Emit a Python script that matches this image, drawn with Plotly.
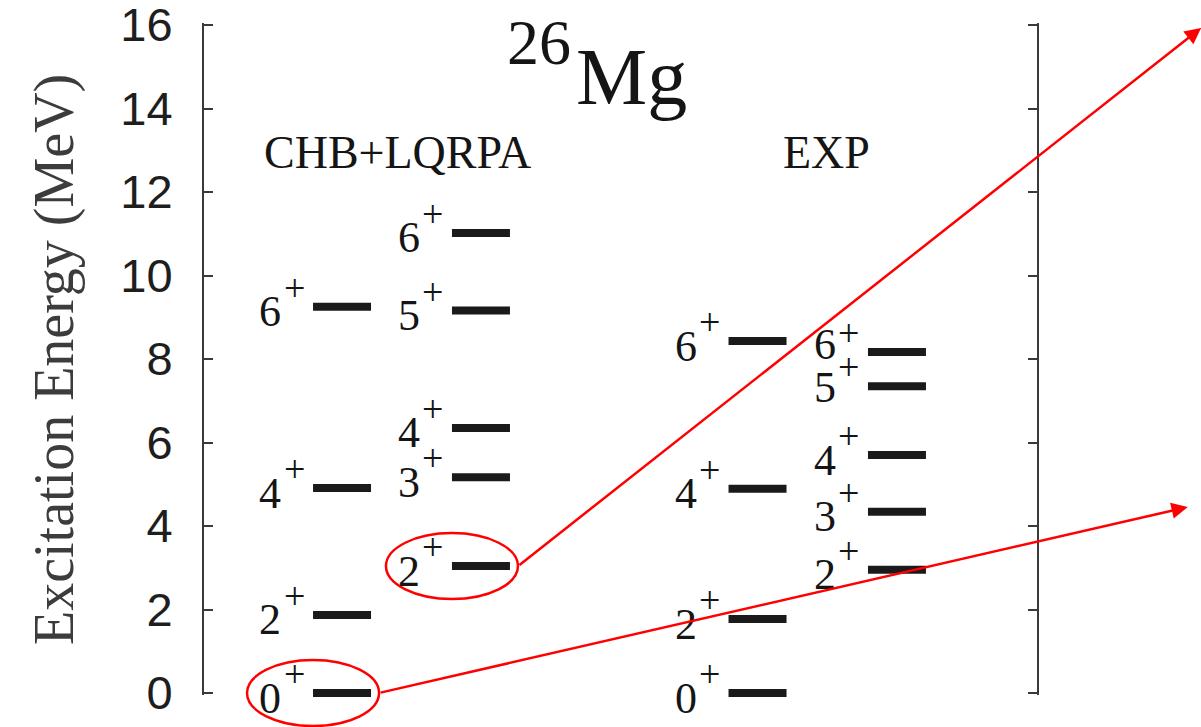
import plotly.graph_objects as go

# Level energies (MeV) and spins for 26Mg
chb_a_spins = ["0", "2", "4", "6"]
chb_a_energy = [0.0, 1.87, 4.91, 9.25]
chb_b_spins = ["2", "3", "4", "5", "6"]
chb_b_energy = [3.04, 5.17, 6.35, 9.16, 11.02]
exp_a_spins = ["0", "2", "4", "6"]
exp_a_energy = [0.0, 1.77, 4.89, 8.43]
exp_b_spins = ["2", "3", "4", "5", "6"]
exp_b_energy = [2.95, 4.34, 5.70, 7.35, 8.17]

y_ticks = [0, 2, 4, 6, 8, 10, 12, 14, 16]
group_titles = ["CHB+LQRPA", "EXP"]

# ---- layout geometry ----
W, H = 1201, 727
PX_PER_MEV = 41.75
EDGE_PX = 2                       # tiny overshoot so the end ticks are kept
Y_PAD = EDGE_PX / PX_PER_MEV
Y_LO, Y_HI = 0 - Y_PAD, 16 + Y_PAD
ML, MR, MT, MB = 204, 164, 25 - EDGE_PX, 34 - EDGE_PX
PW = W - ML - MR
PH = H - MT - MB


def ydom(e):
    """Energy -> fraction of the y-axis domain."""
    return (e - Y_LO) / (Y_HI - Y_LO)


def px_to_paper_y(py):
    return (H - MB - py) / PH


col_x = [0.1657, 0.3325, 0.6645, 0.8319]   # column centres in x-axis units
BAR_PX = 58
half_bar = BAR_PX / 2 / PW

SERIF = "Liberation Serif"
SANS = "Arial, Liberation Sans, sans-serif"
INK = "#151515"
AXIS = "#3a3a3a"

columns = [
    (col_x[0], chb_a_spins, chb_a_energy, {}),
    (col_x[1], chb_b_spins, chb_b_energy, {}),
    (col_x[2], exp_a_spins, exp_a_energy, {}),
    (col_x[3], exp_b_spins, exp_b_energy, {"6": 12, "5": 4}),
]

fig = go.Figure()

# Each level is a short horizontal bar ('line-ew' marker spans 1.4 x size)
for cx, spins, energy, _ in columns:
    fig.add_trace(go.Scatter(
        x=[cx] * len(energy), y=energy, mode="markers",
        marker=dict(symbol="line-ew", size=BAR_PX / 1.4, color="#1a1a1a",
                    line=dict(width=8, color="#1a1a1a")),
        cliponaxis=False, hoverinfo="skip", showlegend=False,
    ))

annotations = []
for cx, spins, energy, nudge in columns:
    left = cx - half_bar
    for s, e in zip(spins, energy):
        annotations.append(dict(
            x=left, y=e, xref="x", yref="y", text=s, showarrow=False,
            xanchor="right", yanchor="middle", xshift=-31,
            yshift=-5 + nudge.get(s, 0), borderpad=0,
            font=dict(family=SERIF, size=44, color=INK)))
        annotations.append(dict(
            x=left, y=e, xref="x", yref="y", text="+", showarrow=False,
            xanchor="center", yanchor="middle", xshift=-19,
            yshift=19, borderpad=0,
            font=dict(family=SERIF, size=38, color=INK)))

# Nucleus title
annotations.append(dict(x=(575 - ML) / PW, y=px_to_paper_y(77), xref="paper", yref="paper",
                        text="Mg", showarrow=False, xanchor="left", yanchor="middle",
                        borderpad=0, font=dict(family=SERIF, size=80, color=INK)))
annotations.append(dict(x=(572 - ML) / PW, y=px_to_paper_y(42), xref="paper", yref="paper",
                        text="26", showarrow=False, xanchor="right", yanchor="middle",
                        borderpad=0, font=dict(family=SERIF, size=64, color=INK)))

# Group headings
for title, px in zip(group_titles, [397.5, 826.5]):
    annotations.append(dict(x=(px - ML) / PW, y=px_to_paper_y(152), xref="paper", yref="paper",
                            text=title, showarrow=False, xanchor="center", yanchor="middle",
                            borderpad=0, font=dict(family=SERIF, size=46, color=INK)))

# Axis title
annotations.append(dict(x=(54 - ML) / PW, y=px_to_paper_y(360), xref="paper", yref="paper",
                        text="Excitation Energy (MeV)", textangle=-90, showarrow=False,
                        xanchor="center", yanchor="middle", borderpad=0,
                        font=dict(family=SERIF, size=56, color="#3c3c3c")))

# Highlight ellipses around selected levels, with arrows leading off the chart
RX = 66 / PW
RY = 33 / PX_PER_MEV
highlights = [
    (col_x[1] - half_bar, chb_b_energy[0], 1.197, 15.93),
    (col_x[0] - half_bar, chb_a_energy[0], 1.181, 4.455),
]
shapes = []
for ex, ey, hx, hy in highlights:
    shapes.append(dict(type="circle", xref="x", yref="y domain",
                       x0=ex - RX, x1=ex + RX,
                       y0=ydom(ey - RY), y1=ydom(ey + RY),
                       line=dict(color="#ff0000", width=2.5)))
    annotations.append(dict(x=hx, y=hy, xref="x", yref="y",
                            ax=ex + RX, ay=ey, axref="x", ayref="y",
                            text="", showarrow=True, arrowhead=2, arrowsize=1.3,
                            arrowwidth=2.5, arrowcolor="#ff0000", standoff=0))

fig.update_layout(
    width=W, height=H,
    margin=dict(l=ML, r=MR, t=MT, b=MB, pad=0, autoexpand=False),
    paper_bgcolor="white", plot_bgcolor="white",
    showlegend=False,
    xaxis=dict(range=[0, 1], visible=False, showgrid=False, zeroline=False,
               automargin=False),
    yaxis=dict(range=[Y_LO, Y_HI], tickvals=y_ticks, ticktext=[str(t) for t in y_ticks],
               ticks="inside", ticklen=9, tickwidth=2, tickcolor=AXIS,
               showline=True, linewidth=2, linecolor=AXIS, mirror="ticks",
               showgrid=False, zeroline=False, ticklabelstandoff=20,
               ticklabeloverflow="allow", automargin=False,
               tickfont=dict(family=SANS, size=47, color="#1e1e1e")),
    annotations=annotations, shapes=shapes,
)

fig.write_html("out.html")
